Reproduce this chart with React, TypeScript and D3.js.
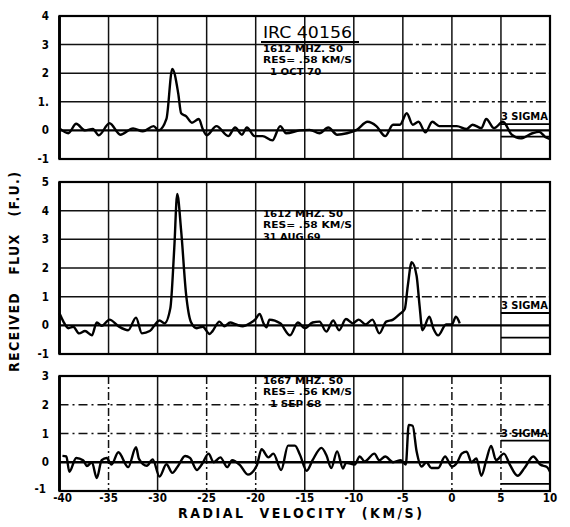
import React from 'react'
import * as d3 from 'd3'

// velocity (km/s) and flux (F.U.)
const topVel = [-40, -39.1, -38.3, -37.4, -36.6, -36, -34.9, -33.8, -32.5, -31.5, -30.4, -29.9, -29.1, -28.5, -27.9, -27.6, -27.1, -26.5, -25.8, -25.4, -25, -24, -22.8, -22.1, -21.4, -20.9, -20.1, -19.3, -18.3, -17.5, -16.9, -15.5, -14.5, -13.5, -12.6, -11.7, -10.7, -9.7, -8.6, -7.7, -6.8, -6, -5.3, -4.6, -4, -3.4, -2.7, -2, -1.3, -0.3, 0.5, 1.5, 2.1, 3, 3.5, 4.3, 5.2, 6.1, 7, 8.2, 8.9, 9.6, 10]
const topFlux = [0.07, -0.1, 0.23, 0, 0.05, -0.17, 0.25, -0.15, 0.07, -0.03, 0.15, 0, 0.4, 2.15, 1.3, 0.6, 0.5, 0.27, 0.4, 0.05, -0.17, 0.15, -0.2, 0.1, -0.15, 0.1, -0.2, -0.2, -0.35, 0.15, -0.1, 0, 0.02, -0.1, 0.1, -0.15, -0.1, 0.02, 0.3, 0.15, -0.2, 0.2, 0.2, 0.6, 0.2, 0.3, -0.07, 0.3, 0.15, 0.15, 0.15, 0.05, 0.2, 0.08, 0.4, 0.08, 0.3, -0.15, -0.28, -0.1, -0.05, -0.25, -0.3]

const midVel = [-40, -39.6, -39.1, -38.6, -38, -37.4, -36.7, -36.2, -35.7, -34.9, -34, -33, -32.2, -31.6, -30.8, -29.8, -29.3, -28.7, -28.3, -28, -27.6, -27.1, -26.6, -26, -25.4, -24.7, -24.4, -23.7, -23.2, -22.6, -22, -21.3, -20.6, -20, -19.6, -19.2, -18.9, -18.6, -17.5, -16.5, -15.7, -15, -14.2, -13.5, -12.8, -12.1, -11.5, -10.8, -10.1, -9.5, -8.8, -8.1, -7.4, -6.7, -6, -5.3, -4.8, -4.5, -4.1, -3.6, -3.3, -3, -2.3, -1.9, -1.4, -0.6, 0, 0.4, 0.8]
const midFlux = [0.42, 0.13, -0.1, -0.05, -0.28, -0.2, -0.35, 0.1, -0.02, 0.2, -0.03, -0.17, 0.27, -0.28, -0.2, 0.17, 0.07, 0.6, 2.7, 4.58, 3.3, 1.1, 0.12, -0.1, -0.05, -0.3, -0.2, 0.13, -0.03, 0.1, 0.03, -0.03, 0.07, 0.22, 0.4, 0.07, -0.07, 0.2, 0.07, -0.35, 0.1, -0.1, 0.1, 0.13, -0.22, 0.17, -0.17, 0.22, 0.07, 0.2, 0.03, 0.2, -0.28, 0.13, 0.2, 0.4, 0.57, 1.37, 2.2, 1.73, 0.7, -0.17, 0.3, -0.1, -0.35, 0.03, 0.03, 0.3, 0.07]

const botVel = [-39.7, -39.3, -39, -38.3, -37.6, -37.2, -36.7, -36.2, -35.7, -35.2, -34.7, -34, -33, -32.2, -31.9, -31.1, -30.5, -29.8, -29.1, -28.5, -27.9, -27.2, -26.7, -26, -25.5, -24.8, -24.3, -23.6, -22.9, -22.4, -21.6, -20.8, -19.9, -19.4, -18.7, -18.2, -17.4, -16.7, -16, -15.5, -14.8, -14.2, -13.3, -12.8, -12.3, -11.7, -11.1, -10.8, -9.9, -9.4, -8.9, -7.9, -7.4, -6.8, -6, -5.2, -4.7, -4.4, -4, -3.6, -3.1, -2.6, -2.1, -1.4, -0.7, 0, 0.5, 1, 1.5, 2, 2.5, 3, 3.5, 4, 4.5, 5.3, 5.9, 6.7, 7.4, 8.3, 9, 9.7, 10]
const botFlux = [0.22, 0.2, -0.33, 0.15, 0.07, -0.13, 0, -0.55, 0.07, 0.15, -0.08, 0.35, -0.17, 0.52, 0.12, -0.12, 0.1, -0.5, -0.07, -0.37, -0.12, 0.22, 0.15, -0.27, -0.08, 0.3, 0, 0.17, -0.17, 0.07, -0.1, -0.43, -0.12, 0.45, 0.17, 0.3, -0.27, 0.58, 0.58, 0.27, -0.3, 0.07, 0.5, 0.25, -0.2, 0.38, -0.22, -0.02, -0.08, 0.2, 0.03, 0.3, 0.07, 0.2, 0, 0.07, -0.08, 1.3, 1.27, 0.38, -0.15, 0, -0.2, -0.2, 0.2, -0.15, -0.03, 0.3, 0.37, 0, 0.13, -0.47, 0.07, 0.57, 0.07, 0.3, -0.08, -0.47, -0.2, 0.2, -0.08, -0.17, -0.33]

const xTicks = [-40, -35, -30, -25, -20, -15, -10, -5, 0, 5, 10]
const topTicks = ['4', '3', '2', '1.', '0', '-1']
const midTicks = ['5', '4', '3', '2', '1', '0', '-1']
const botTicks = ['3', '2', '1', '0', '-1']
const sigma3 = [0.22, 0.43, 0.75]

const notes = [
  ['1612 MHZ. S0', 'RES= .58 KM/S', '1 OCT 70'],
  ['1612 MHZ. S0', 'RES= .58 KM/S', '31 AUG 69'],
  ['1667 MHZ. S0', 'RES= .56 KM/S', '1 SEP 68'],
]

const FONT = '"DejaVu Sans Condensed", "DejaVu Sans", sans-serif'

function App() {
  const width = 570
  const height = 527

  const xScale = d3.scaleLinear().domain([-40, 10]).range([59.5, 550])

  const panels = [
    { vel: topVel, flux: topFlux, ticks: topTicks, y: d3.scaleLinear().domain([-1, 4]).range([159, 16]), sigma: sigma3[0], note: notes[0], noteY: 52, dashed: false },
    { vel: midVel, flux: midFlux, ticks: midTicks, y: d3.scaleLinear().domain([-1, 5]).range([354, 182]), sigma: sigma3[1], note: notes[1], noteY: 217, dashed: false },
    { vel: botVel, flux: botFlux, ticks: botTicks, y: d3.scaleLinear().domain([-1, 3]).range([491, 376]), sigma: sigma3[2], note: notes[2], noteY: 384, dashed: true },
  ]

  return (
    <svg width={width} height={height} style={{ position: 'absolute', left: 0, top: 0, background: '#fff' }}
      fontFamily={FONT} fontWeight="bold" fill="#000">
      {panels.map((p, i) => {
        const [y0, y1] = p.y.domain()
        const line = d3.line<number>()
          .x((_, k) => xScale(p.vel[k]))
          .y(d => p.y(d))
          .curve(d3.curveMonotoneX)
        const yVals = d3.range(y1, y0 - 1, -1)
        return <g key={i}>
          {/* horizontal grid: solid on the left, broken further right */}
          {yVals.filter(v => v !== 0 && v !== y0 && v !== y1).map(v => <g key={v}>
            {p.dashed
              ? <path d={`M ${xScale(-40)} ${p.y(v)} H ${xScale(10)}`} stroke="#111" strokeWidth="1.5" strokeDasharray="9 4 2 4" />
              : <>
                <path d={`M ${xScale(-40)} ${p.y(v)} H ${xScale(-5)}`} stroke="#111" strokeWidth="1.5" />
                <path d={`M ${xScale(-5)} ${p.y(v)} H ${xScale(10)}`} stroke="#111" strokeWidth="1.5" strokeDasharray="10 3 3 3" />
              </>}
          </g>)}
          {/* vertical grid */}
          {xTicks.slice(1, -1).map(t => (
            <path key={t} d={`M ${xScale(t)} ${p.y(y1)} V ${p.y(y0)}`} stroke="#111" strokeWidth="1.5"
              strokeDasharray={p.dashed && [-35, -25, -20, 0, 5].includes(t) ? '8 3 2 3' : undefined} />
          ))}
          {/* frame */}
          <rect x={xScale(-40)} y={p.y(y1)} width={xScale(10) - xScale(-40)} height={p.y(y0) - p.y(y1)}
            fill="none" stroke="#000" strokeWidth="2.2" />
          <path d={`M ${xScale(-40)} ${p.y(y1)} V ${p.y(y0)}`} stroke="#000" strokeWidth="2.8" />
          {/* zero line */}
          <path d={`M ${xScale(-40)} ${p.y(0)} H ${xScale(10)}`} stroke="#000" strokeWidth="2.4" />
          {/* 3 sigma marks */}
          <path d={`M ${xScale(5)} ${p.y(p.sigma)} H ${xScale(10)} M ${xScale(5)} ${p.y(-p.sigma)} H ${xScale(10)}`} stroke="#000" strokeWidth="1.8" />
          <text x={xScale(5)} y={p.y(p.sigma) - 4} fontSize="10" textLength="47" lengthAdjust="spacingAndGlyphs">3 SIGMA</text>
          {/* spectrum */}
          <path d={line(p.flux) ?? ''} fill="none" stroke="#000" strokeWidth="2.4" strokeLinejoin="round" />
          {/* y tick labels */}
          {yVals.map((v, k) => (
            <text key={v} x={i === 2 && v === -1 ? 46 : 49} y={p.y(v) + (i === 2 && v === -1 ? 2 : 4)} fontSize="11.5" textAnchor="end">{p.ticks[k]}</text>
          ))}
          {/* observation note */}
          {p.note.map((s, k) => (
            <text key={k} x={k === 2 && s.length < 9 ? 270 : 263} y={p.noteY + k * 11.3} fontSize="9.5"
              textLength={k === 0 ? 80 : k === 1 ? 89 : s.length * 6.4} lengthAdjust="spacingAndGlyphs">{s}</text>
          ))}
        </g>
      })}

      {/* title */}
      <text x={263} y={38} fontSize="15" fontWeight="normal" textLength="89" lengthAdjust="spacingAndGlyphs">IRC 40156</text>
      <path d="M 261 42 H 359" stroke="#000" strokeWidth="1.8" />

      {/* x axis */}
      {xTicks.map(t => (
        <text key={t} x={xScale(t) + (t === -40 ? 3 : 0)} y={502} fontSize="11.5" textAnchor="middle">{t}</text>
      ))}
      <text x={300} y={518} fontSize="14" textAnchor="middle" textLength="244" lengthAdjust="spacing"
        style={{ whiteSpace: 'pre' }}>RADIAL  VELOCITY  (KM/S)</text>

      {/* y axis */}
      <text transform="translate(19 272) rotate(-90)" fontSize="14" textAnchor="middle" textLength="200" lengthAdjust="spacing"
        style={{ whiteSpace: 'pre' }}>RECEIVED   FLUX   (F.U.)</text>
    </svg>
  )
}

export default App
